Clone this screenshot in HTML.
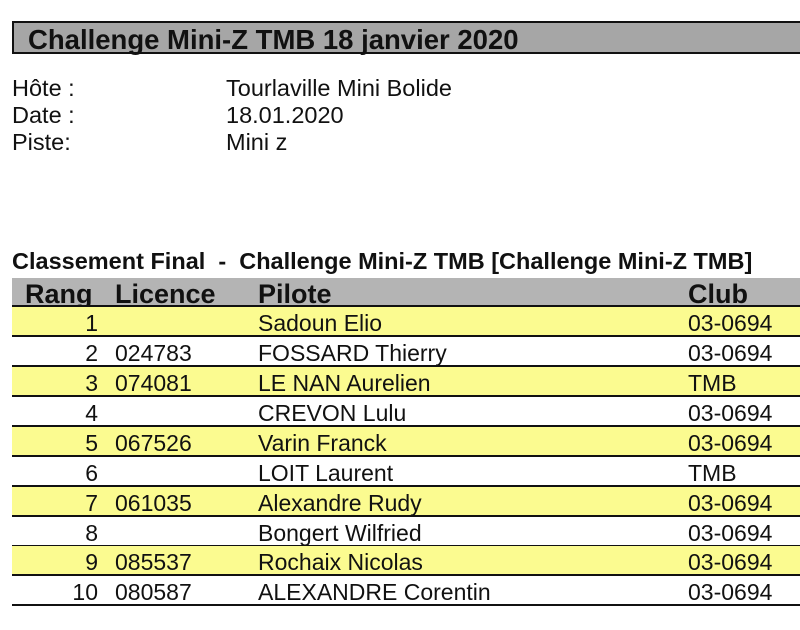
<!DOCTYPE html>
<html><head><style>
body{margin:0;width:800px;height:630px;background:#fff;position:relative;overflow:hidden;font-family:"Liberation Sans",Arial,sans-serif;color:#111}
.a{position:absolute;white-space:nowrap}
.title{left:12px;top:21px;width:800px;height:33px;background:#a6a6a6;border:2px solid #111;box-sizing:border-box;}
.title span{position:absolute;left:14px;top:1px;font-size:27.5px;font-weight:bold;line-height:32px}
.info{font-size:23.5px;line-height:27px}
.row{position:absolute;left:12px;width:800px;height:28px;border-bottom:2px solid #111;font-size:23px;line-height:33px}
.y{background:#fbfb90}
.row span{position:absolute}
.r{right:714px;text-align:right}
</style></head><body>
<div class="a title"><span>Challenge Mini-Z TMB 18 janvier 2020</span></div>
<div class="a info" style="left:12px;top:75px">Hôte :<br>Date :<br>Piste:</div>
<div class="a info" style="left:226px;top:75px">Tourlaville Mini Bolide<br>18.01.2020<br>Mini z</div>
<div class="a" style="left:12px;top:248px;font-size:23.5px;font-weight:bold">Classement Final &nbsp;- &nbsp;Challenge Mini-Z TMB [Challenge Mini-Z TMB]</div>
<div class="row" style="top:278px;background:#b4b4b4;font-weight:bold;font-size:27px;line-height:33px;height:27px">
<span style="left:13px">Rang</span><span style="left:103px">Licence</span><span style="left:246px">Pilote</span><span style="left:676px">Club</span></div>
<div class="row y" style="top:307px"><span class="r">1</span><span style="left:246px">Sadoun Elio</span><span style="left:676px">03-0694</span></div>
<div class="row" style="top:337px"><span class="r">2</span><span style="left:103px">024783</span><span style="left:246px">FOSSARD Thierry</span><span style="left:676px">03-0694</span></div>
<div class="row y" style="top:367px"><span class="r">3</span><span style="left:103px">074081</span><span style="left:246px">LE NAN Aurelien</span><span style="left:676px">TMB</span></div>
<div class="row" style="top:397px"><span class="r">4</span><span style="left:246px">CREVON Lulu</span><span style="left:676px">03-0694</span></div>
<div class="row y" style="top:427px"><span class="r">5</span><span style="left:103px">067526</span><span style="left:246px">Varin Franck</span><span style="left:676px">03-0694</span></div>
<div class="row" style="top:457px"><span class="r">6</span><span style="left:246px">LOIT Laurent</span><span style="left:676px">TMB</span></div>
<div class="row y" style="top:487px"><span class="r">7</span><span style="left:103px">061035</span><span style="left:246px">Alexandre Rudy</span><span style="left:676px">03-0694</span></div>
<div class="row" style="top:517px"><span class="r">8</span><span style="left:246px">Bongert Wilfried</span><span style="left:676px">03-0694</span></div>
<div class="row y" style="top:546px"><span class="r">9</span><span style="left:103px">085537</span><span style="left:246px">Rochaix Nicolas</span><span style="left:676px">03-0694</span></div>
<div class="row" style="top:576px"><span class="r">10</span><span style="left:103px">080587</span><span style="left:246px">ALEXANDRE Corentin</span><span style="left:676px">03-0694</span></div>
</body></html>
